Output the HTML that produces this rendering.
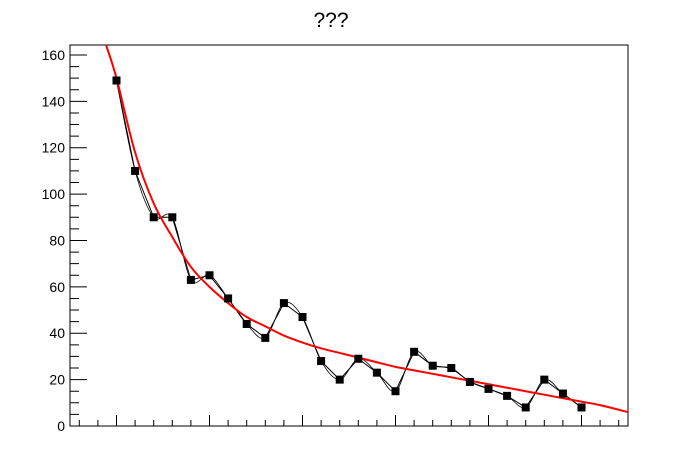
<!DOCTYPE html>
<html><head><meta charset="utf-8"><style>body{margin:0;background:#fff}svg{display:block}text{font-family:"Liberation Sans",sans-serif}</style></head>
<body>
<svg id="c" width="698" height="474">
<text x="331" y="27" font-size="21" text-anchor="middle">???</text>
<g id="ax"></g><g id="marks"></g>
</svg>
<script>
const xs=[1,2,3,4,5,6,7,8,9,10,11,12,13,14,15,16,17,18,19,20,21,22,23,24,25,26];
const ys=[149,110,90,90,63,65,55,44,38,53,47,28,20,29,23,15,32,26,25,19,16,13,8,20,14,8];
const fitX=[0.45,1,2,3,4,5,6,7,8,9,10,11,12,13,14,15,16,17,18,19,20,21,22,23,24,25,26,27,28.5];
const fitY=[164,150,118,96,81.5,68.6,60,53,47,43,39,36,33.5,31.5,29.5,27.5,25.5,24,22.5,21,19.5,18,16.5,15,13.5,12,10.5,9,6];
const yTicks=[0,20,40,60,80,100,120,140,160];
const L=70,R=628,T=45,B=426,xmin=-1.5,xmax=28.5,ymax=164.3;
const sx=v=>L+(v-xmin)/(xmax-xmin)*(R-L), sy=v=>B-v/ymax*(B-T);
const NS='http://www.w3.org/2000/svg';
function mk(t,a,p){const e=document.createElementNS(NS,t);for(const k in a)e.setAttribute(k,a[k]);p.appendChild(e);return e;}
const ax=document.getElementById('ax'),mg=document.getElementById('marks');
const fr=mk('rect',{x:L,y:T,width:R-L,height:B-T,fill:'none',stroke:'#000','stroke-width':1},ax);


let d='';
for(let v=0;v<=ymax;v+=5){const y=sy(v);d+=`M${L} ${y}h${v%20==0?17:9}`;}
for(let v=-1;v<=28;v++){const x=sx(v);d+=`M${x} ${B}v${-(((v-1)%5+5)%5==0?11:6)}`;}
const tk=mk('path',{d:d,stroke:'#000','stroke-width':1,fill:'none'},ax);


yTicks.forEach(v=>{const t=mk('text',{x:L-5,y:sy(v)+5,'font-size':14,'text-anchor':'end'},ax);t.textContent=v;

});
const pl=mk('polyline',{points:xs.map((x,i)=>sx(x)+','+sy(ys[i])).join(' '),fill:'none',stroke:'#000','stroke-width':1},mg);


function cr(P){let s=`M${P[0][0]} ${P[0][1]}`;
for(let i=0;i<P.length-1;i++){const p0=P[Math.max(0,i-1)],p1=P[i],p2=P[i+1],p3=P[Math.min(P.length-1,i+2)];
s+=`C${p1[0]+(p2[0]-p0[0])/6} ${p1[1]+(p2[1]-p0[1])/6} ${p2[0]-(p3[0]-p1[0])/6} ${p2[1]-(p3[1]-p1[1])/6} ${p2[0]} ${p2[1]}`;}return s;}
const sp=mk('path',{d:cr(xs.map((x,i)=>[sx(x),sy(ys[i])])),fill:'none',stroke:'#000','stroke-width':0.8},mg);


const fc=mk('path',{d:cr(fitX.map((q,j)=>[sx(q),sy(fitY[j])])),fill:'none',stroke:'#f00','stroke-width':2},mg);


xs.forEach((x,i)=>{const r=mk('rect',{x:sx(x)-4,y:sy(ys[i])-4,width:8,height:8,fill:'#000'},mg);

});
</script>
</body></html>
